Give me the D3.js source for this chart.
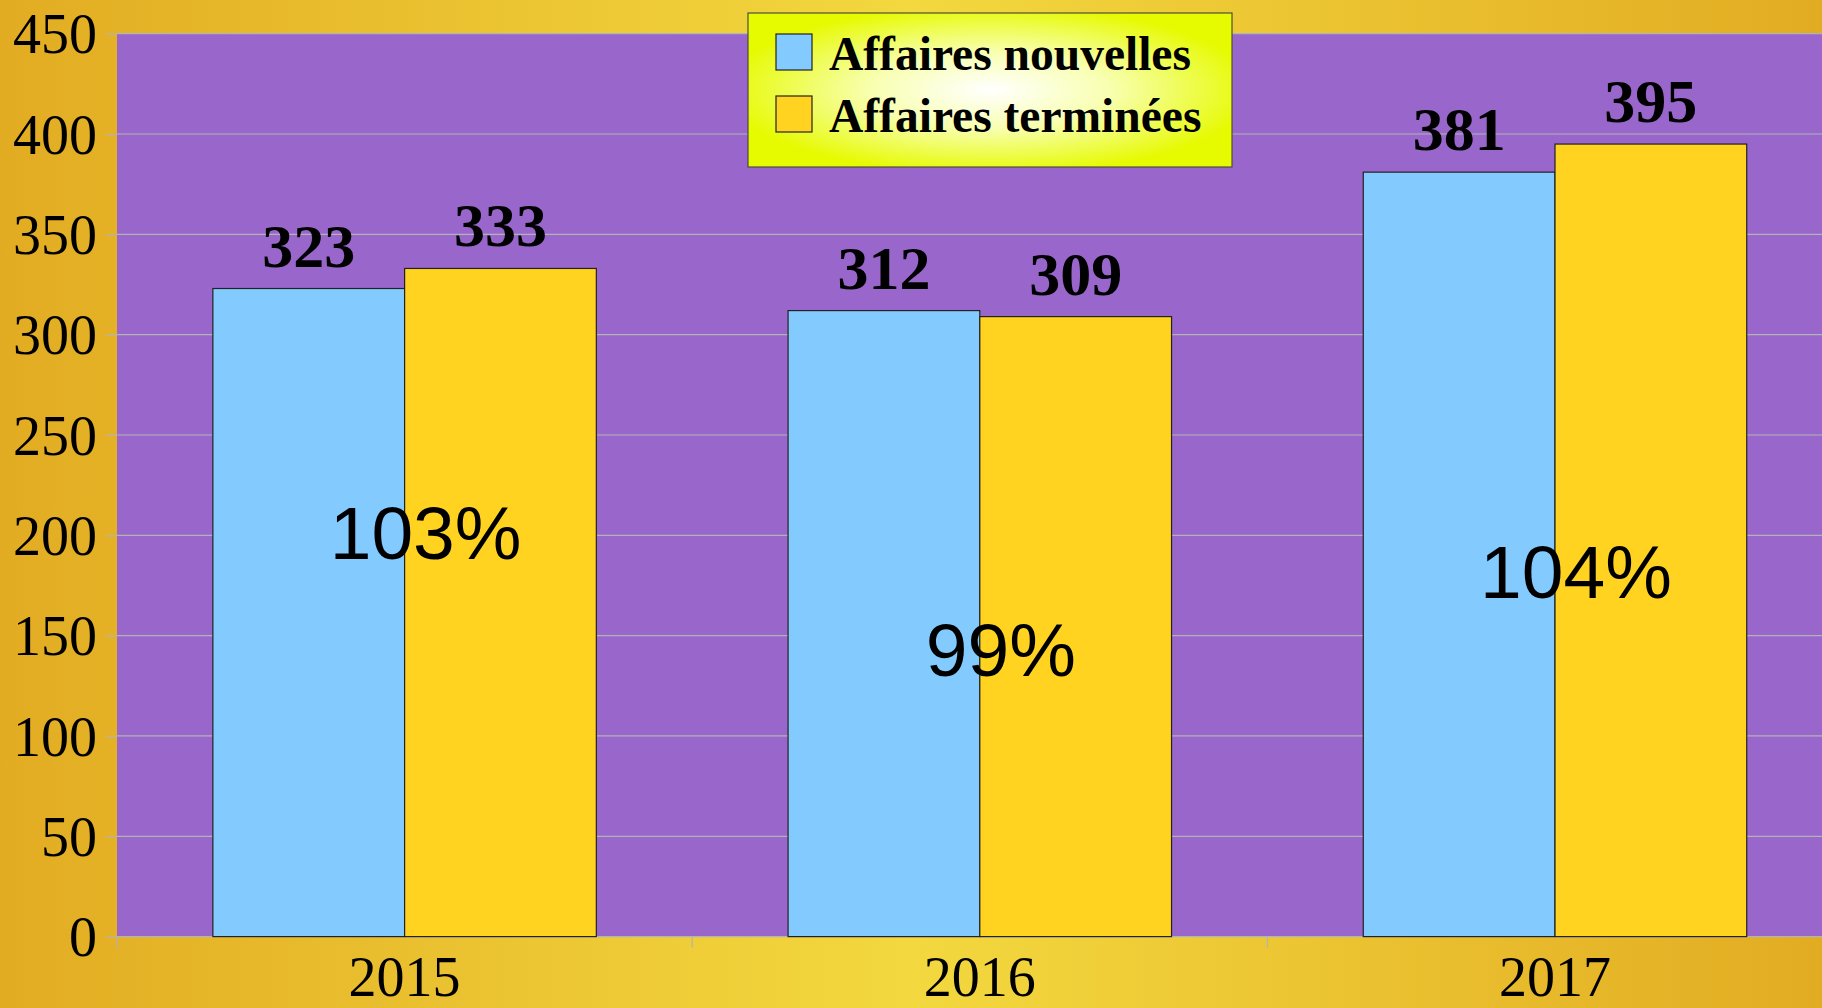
<!DOCTYPE html>
<html>
<head>
<meta charset="utf-8">
<script src="https://cdn.jsdelivr.net/npm/d3@7"></script>
<style>
  body { margin: 0; padding: 0; overflow: hidden; }
  svg { display: block; }
</style>
</head>
<body>
<script>
// data
var years = ["2015", "2016", "2017"];
var seriesNames = ["Affaires nouvelles", "Affaires terminées"];
var nouvelles = [323, 312, 381];
var terminees = [333, 309, 395];
var yTicks = [0, 50, 100, 150, 200, 250, 300, 350, 400, 450];
// height (in axis units) at which the ratio labels sit
var ratioLabelAt = [188, 130, 169];

var colors = ["#83CAFF", "#FFD320"];

var W = 1822, H = 1008;
var margin = {top: 33.7, left: 117, bottom: 71.4};
var step = 575.2;

var svg = d3.select("body").append("svg")
    .attr("width", W)
    .attr("height", H);

var defs = svg.append("defs");

// gold page background
var bg = defs.append("linearGradient").attr("id", "bg")
    .attr("x1", "0").attr("x2", "1").attr("y1", "0").attr("y2", "0");
bg.append("stop").attr("offset", "0").attr("stop-color", "#E2AC22");
bg.append("stop").attr("offset", "0.5").attr("stop-color", "#F3D83F");
bg.append("stop").attr("offset", "1").attr("stop-color", "#E2AC22");

// legend fill: white centre, lime edges
var lg = defs.append("radialGradient").attr("id", "lg")
    .attr("cx", "0.5").attr("cy", "0.5").attr("r", "0.55");
lg.append("stop").attr("offset", "0").attr("stop-color", "#FFFFFF");
lg.append("stop").attr("offset", "0.45").attr("stop-color", "#F8FFB0");
lg.append("stop").attr("offset", "1").attr("stop-color", "#E6FA00");

svg.append("rect")
    .attr("width", W).attr("height", H)
    .attr("fill", "url(#bg)");

// scales
var y = d3.scaleLinear().domain([0, 450]).range([H - margin.bottom, margin.top]);
var x0 = d3.scaleBand().domain(years)
    .range([margin.left, margin.left + step * years.length])
    .paddingInner(1 / 3).paddingOuter(1 / 6);
var x1 = d3.scaleBand().domain(seriesNames).range([0, x0.bandwidth()]);

var plotRight = margin.left + step * years.length;

// plot area
svg.append("rect")
    .attr("x", margin.left)
    .attr("y", y(450))
    .attr("width", plotRight - margin.left)
    .attr("height", y(0) - y(450))
    .attr("fill", "#9966CC");

// gridlines
svg.append("g").selectAll("line")
    .data(yTicks)
    .enter().append("line")
    .attr("x1", margin.left).attr("x2", plotRight)
    .attr("y1", function(d) { return y(d); })
    .attr("y2", function(d) { return y(d); })
    .attr("stroke", "#B3B3B3")
    .attr("stroke-width", 1.2);

// Y axis
var yAxis = svg.append("g")
    .attr("transform", "translate(" + margin.left + ",0)")
    .call(d3.axisLeft(y).tickValues(yTicks).tickSize(11).tickPadding(9));
yAxis.select(".domain").remove();
yAxis.selectAll("line").attr("stroke", "#B3B3B3").attr("stroke-width", 1.2);
yAxis.selectAll("text")
    .attr("font-family", "'Liberation Serif', 'Times New Roman', serif")
    .attr("font-size", "56px")
    .attr("fill", "#000")
    .attr("dy", "0.34em");

// X axis ticks at band boundaries
var xTickPos = [margin.left].concat(years.map(function(d) { return x0(d) + x0.bandwidth() + x0.step() * x0.paddingInner() / 2; }));
svg.append("g").selectAll("line")
    .data(xTickPos)
    .enter().append("line")
    .attr("x1", function(d) { return d; })
    .attr("x2", function(d) { return d; })
    .attr("y1", y(0))
    .attr("y2", y(0) + 11)
    .attr("stroke", "#B3B3B3")
    .attr("stroke-width", 1.2);

svg.append("g").selectAll("text")
    .data(years)
    .enter().append("text")
    .attr("x", function(d) { return x0(d) + x0.bandwidth() / 2; })
    .attr("y", y(0) + 59)
    .attr("text-anchor", "middle")
    .attr("font-family", "'Liberation Serif', 'Times New Roman', serif")
    .attr("font-size", "56px")
    .text(function(d) { return d; });

// bars
var series = [nouvelles, terminees];
series.forEach(function(vals, s) {
  svg.append("g").selectAll("rect")
    .data(vals)
    .enter().append("rect")
    .attr("x", function(d, i) { return x0(years[i]) + x1(seriesNames[s]); })
    .attr("y", function(d) { return y(d); })
    .attr("width", x1.bandwidth())
    .attr("height", function(d) { return y(0) - y(d); })
    .attr("fill", colors[s])
    .attr("stroke", "#222")
    .attr("stroke-width", 1.2);

  // value labels
  svg.append("g").selectAll("text")
    .data(vals)
    .enter().append("text")
    .attr("x", function(d, i) { return x0(years[i]) + x1(seriesNames[s]) + x1.bandwidth() / 2; })
    .attr("y", function(d) { return y(d) - 22; })
    .attr("text-anchor", "middle")
    .attr("font-family", "'Liberation Serif', 'Times New Roman', serif")
    .attr("font-weight", "bold")
    .attr("font-size", "62px")
    .text(function(d) { return d; });
});

// ratio labels (terminées / nouvelles)
svg.append("g").selectAll("text")
    .data(years)
    .enter().append("text")
    .attr("x", function(d) { return x0(d) + x0.bandwidth() / 2 + 21; })
    .attr("y", function(d, i) { return y(ratioLabelAt[i]); })
    .attr("text-anchor", "middle")
    .attr("font-family", "'Liberation Sans', Arial, sans-serif")
    .attr("font-size", "75px")
    .text(function(d, i) { return Math.round(terminees[i] / nouvelles[i] * 100) + "%"; });

// legend
var legend = svg.append("g").attr("transform", "translate(748,13)");
legend.append("rect")
    .attr("width", 484).attr("height", 154)
    .attr("fill", "url(#lg)")
    .attr("stroke", "#4d4d3a")
    .attr("stroke-width", 1.2);

legend.selectAll("rect.sw")
    .data(seriesNames)
    .enter().append("rect")
    .attr("class", "sw")
    .attr("x", 28)
    .attr("y", function(d, i) { return 21 + i * 62; })
    .attr("width", 36).attr("height", 36)
    .attr("fill", function(d, i) { return colors[i]; })
    .attr("stroke", "#222")
    .attr("stroke-width", 1.2);

legend.selectAll("text")
    .data(seriesNames)
    .enter().append("text")
    .attr("x", 81)
    .attr("y", function(d, i) { return 57 + i * 62; })
    .attr("font-family", "'Liberation Serif', 'Times New Roman', serif")
    .attr("font-weight", "bold")
    .attr("font-size", "47.5px")
    .text(function(d) { return d; });
</script>
</body>
</html>
